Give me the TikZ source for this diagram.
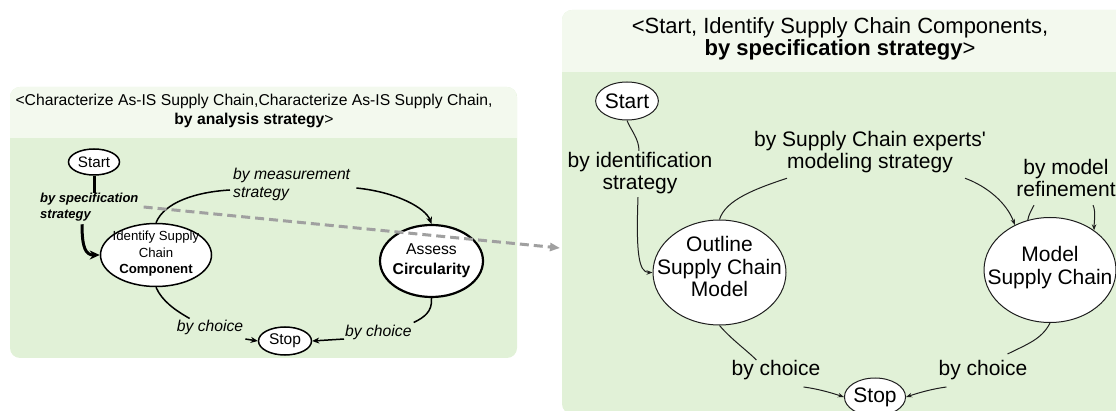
\documentclass[tikz,border=0pt]{standalone}
\usepackage{fontspec}
\setmainfont{Liberation Sans}[Ligatures=TeXOff]
\usetikzlibrary{shapes.geometric,arrows.meta,calc}
\definecolor{hdr}{RGB}{243,249,238}
\definecolor{bdy}{RGB}{225,241,215}
\definecolor{dgray}{RGB}{160,160,160}
\definecolor{ink}{RGB}{30,30,30}
\newcommand{\ctext}[2][0pt]{\makebox[0pt][c]{\raisebox{-#1}{\smash{\begin{tabular}{@{}c@{}}#2\end{tabular}}}}}
\begin{document}
\begin{tikzpicture}[x=1pt,y=-1pt,
  lnode/.style={ellipse,draw=black,fill=white,line width=1.5pt,inner sep=0pt,align=center},
  rnode/.style={ellipse,draw=ink,fill=white,line width=1pt,inner sep=0pt,align=center,font=\fontsize{21}{22.5}\selectfont},
  llab/.style={inner sep=0pt,align=left,font=\fontsize{15.7}{18}\selectfont\itshape},
  rlab/.style={inner sep=0pt,align=center,font=\fontsize{21}{22.5}\selectfont},
  ledge/.style={line width=1.5pt,draw=black},
  larrow/.style={ledge,-{Stealth[length=7pt,width=6pt]}},
  redge/.style={line width=1pt,draw=ink},
  rarrow/.style={redge,-{Stealth[length=6pt,width=4.5pt]}},
  panelbody/.style={fill=bdy},
  panelhead/.style={fill=hdr},
]
\useasboundingbox (0,0) rectangle (1116,411);
\clip (0,0) rectangle (1116,411);

% ---------- left panel ----------
\fill[panelbody, rounded corners=10pt] (10,87) rectangle (517,358);
\begin{scope}
  \clip[rounded corners=10pt] (10,87) rectangle (517,358);
  \fill[panelhead] (10,87) rectangle (517,138);
\end{scope}
\node[inner sep=0pt,align=center,font=\fontsize{15.7}{19}\selectfont] (lhead) at (254,110.5)
  {<Characterize As-IS Supply Chain,Characterize As-IS Supply Chain,\\\textbf{by analysis strategy}>};

% ---------- right panel ----------
\fill[panelbody, rounded corners=10pt] (562,10) rectangle (1170,414);
\begin{scope}
  \clip[rounded corners=10pt] (562,10) rectangle (1170,414);
  \fill[panelhead] (562,10) rectangle (1170,72);
\end{scope}
\node[inner sep=0pt,align=center,font=\fontsize{22}{22}\selectfont] (rhead) at (840,39)
  {<Start, Identify Supply Chain Components,\\\textbf{by specification strategy}>};
\coordinate (rpanelW) at (560,248);

% ---------- left nodes ----------
\node[lnode,minimum width=51pt,minimum height=26pt,font=\fontsize{15.2}{17}\selectfont] (lstart) at (94,162) {Start};
\node[lnode,minimum width=111pt,minimum height=63pt,font=\fontsize{13.2}{16.5}\selectfont] (lident) at (156,255)
  {\ctext[4pt]{Identify Supply\\Chain\\\textbf{Component}}};
\node[lnode,line width=2.2pt,minimum width=103pt,minimum height=72pt,font=\fontsize{15.7}{20}\selectfont] (lassess) at (431.5,261)
  {\ctext[7pt]{Assess\\\textbf{Circularity}}};
\node[lnode,minimum width=53pt,minimum height=28pt,font=\fontsize{15.5}{17}\selectfont] (lstop) at (285,341) {Stop};

% left labels
\node[inner sep=0pt,align=left,anchor=west,font=\fontsize{13}{16}\selectfont\bfseries\itshape] (lspec) at (40,207)
  {by specification\\strategy};
\node[llab,anchor=west] (lmeas) at (233,184) {by measurement\\strategy};
\node[llab] (lch1) at (210,327) {by choice};
\node[llab,anchor=west] (lch2) at (345,332) {by choice};

% ---------- right nodes ----------
\node[rnode,minimum width=62pt,minimum height=38pt] (rstart) at (627,101) {Start};
\node[rnode,minimum width=133pt,minimum height=105pt] (routline) at (719.5,272.5) {\ctext[5pt]{Outline\\Supply Chain\\Model}};
\node[rnode,minimum width=132pt,minimum height=105pt] (rmodel) at (1050,270) {\ctext[7pt]{Model\\Supply Chain}};
\node[rnode,minimum width=56pt,minimum height=38pt] (rstop) at (875,397) {Stop};

% right labels
\node[rlab] (rident) at (640,173) {by identification\\strategy};
\node[rlab] (rexp) at (870,152) {by Supply Chain experts'\\modeling strategy};
\node[rlab] (rref) at (1066,178) {by model\\refinement};
\node[rlab] (rch1) at (776,370) {by choice};
\node[rlab] (rch2) at (983,370) {by choice};

% ---------- left connectors ----------
\draw[line width=3pt] (lstart.south) -- (lstart.south |- lspec.north);
\draw[line width=3pt,-{Stealth[length=10pt,width=9pt]}]
  ($(lspec.south west)+(42,3)$) .. controls +(0,24) and +(-14,0) .. (lident.west);
\draw[ledge] (lident.north) .. controls +(8,-20) and +(-35,2) .. ($(lmeas.west)+(-3,6)$);
\draw[larrow] ($(lmeas.east)+(6,4)$) .. controls +(40,4) and +(-6,-16) .. (lassess.north);
\draw[ledge] (lident.south) .. controls +(6,14) and +(-14,-8) .. ($(lch1.north west)+(13,-1)$);
\draw[larrow] ($(lch1.east)+(2,12)$) -- (lstop.west);
\draw[ledge] (lassess.south) .. controls +(1,14) and +(10,-5) .. ($(lch2.north east)+(2,-2)$);
\draw[larrow] ($(lch2.west)+(-1,7)$) -- (lstop.east);

% ---------- right connectors ----------
\draw[redge] (rstart.south) .. controls +(4,10) and +(0,-12) .. ($(rident.north)+(-1,-1)$);
\draw[rarrow] ($(rident.south)+(-2,3)$) .. controls +(-2,55) and +(-14,0) .. (routline.west);
\draw[redge] (routline.north) .. controls +(6,-20) and +(-30,10) .. ($(rexp.south west)+(33,5)$);
\draw[rarrow] ($(rexp.south)+(95,5)$) .. controls +(22,8) and +(-8,-22) .. (rmodel.128);
\draw[redge] (rmodel.114) .. controls +(1,-6) and +(-2,4) .. ($(rref.south)+(-32,8)$);
\draw[rarrow] ($(rref.south)+(27,8)$) .. controls +(3,6) and +(0,-8) .. (rmodel.42);
\draw[redge] (routline.south) .. controls +(12,14) and +(-10,-10) .. ($(rch1.north west)+(25,0)$);
\draw[rarrow] ($(rch1.south east)+(-17,7)$) .. controls +(15,2) and +(-12,-4) .. (rstop.west);
\draw[redge] (rmodel.south) .. controls +(-8,16) and +(20,-10) .. ($(rch2.north east)+(-20,-6)$);
\draw[rarrow] ($(rch2.south west)+(8,7)$) .. controls +(-15,2) and +(12,-4) .. (rstop.east);

% ---------- dashed refinement link ----------
\draw[dgray,line width=3pt,dash pattern=on 9pt off 5pt,-{Triangle[length=10pt,width=8pt]}]
  ($(lspec.east)+(5,0)$) -- (rpanelW);
\end{tikzpicture}
\end{document}
